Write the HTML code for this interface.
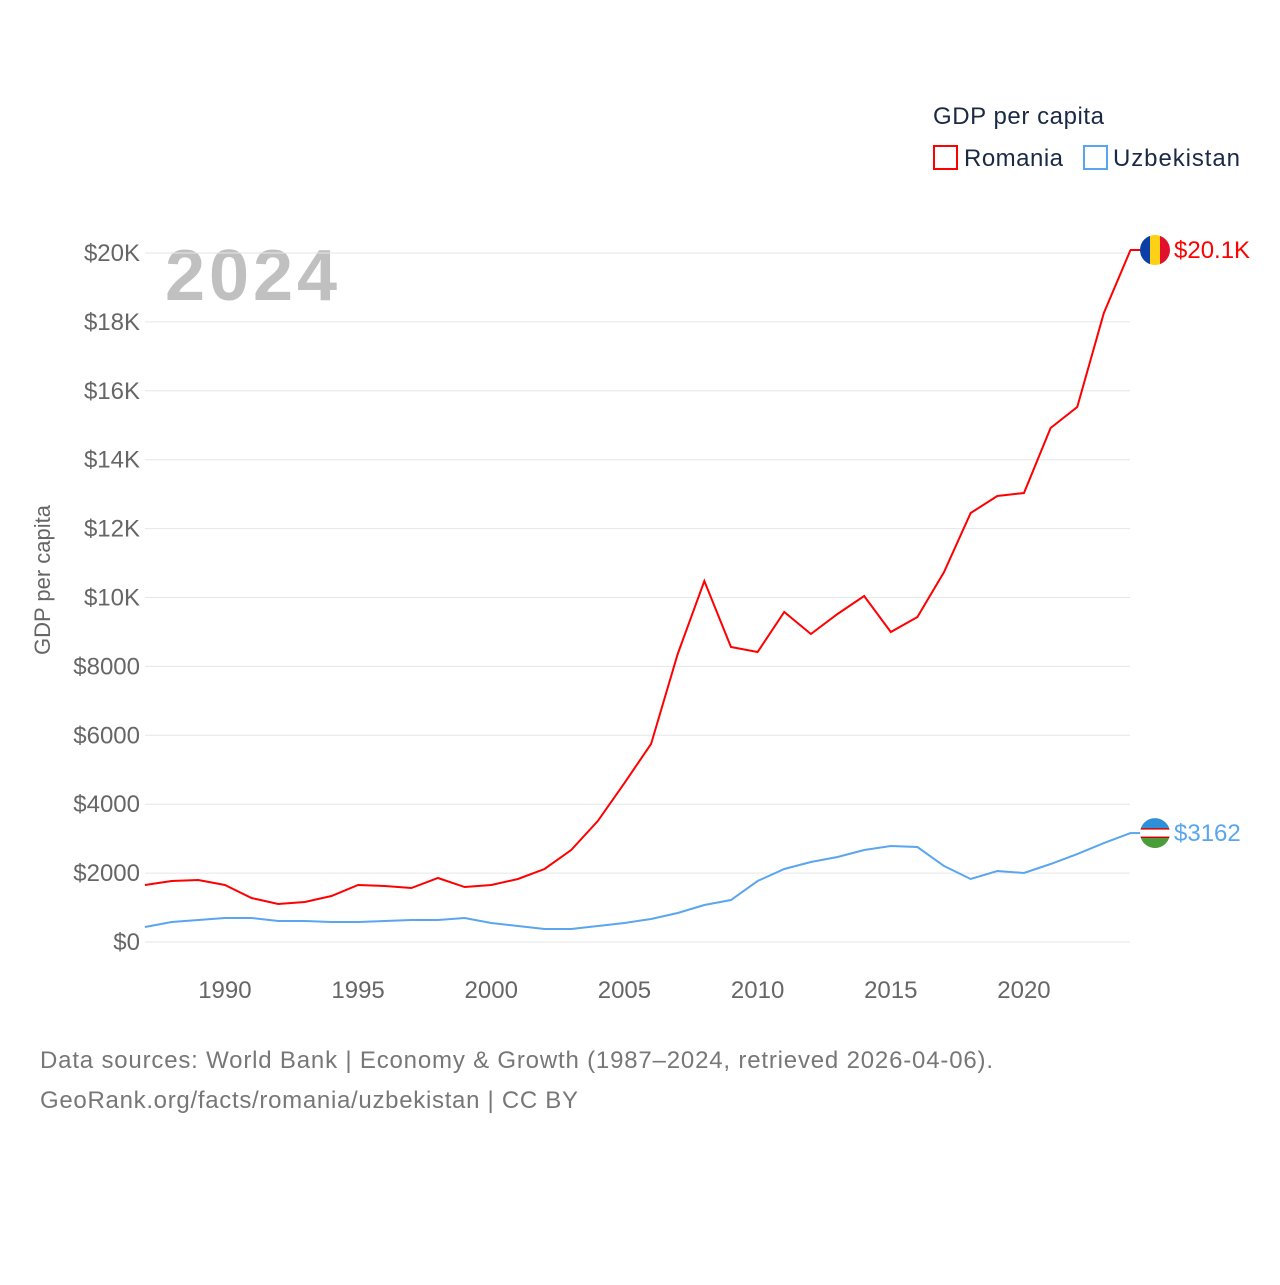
<!DOCTYPE html>
<html><head><meta charset="utf-8"><style>
body{margin:0;background:#fff;font-family:"Liberation Sans",sans-serif}
svg text{font-family:"Liberation Sans",sans-serif}
</style></head><body>
<svg id="c" width="1280" height="1280">
<text x="933" y="124" font-size="24" fill="#1a2a44" textLength="171">GDP per capita</text>
<g><rect x="934" y="146" width="23" height="23" fill="none" stroke="#f00" stroke-width="2"/><text x="964" y="166" font-size="24" fill="#1a2a44" textLength="99">Romania</text></g>
<g><rect x="1084" y="146" width="23" height="23" fill="none" stroke="#5aa6ee" stroke-width="2"/><text x="1113" y="166" font-size="24" fill="#1a2a44" textLength="127">Uzbekistan</text></g>
<text x="165" y="300" font-size="72" font-weight="bold" fill="#c0c0c0" textLength="172">2024</text>
<text transform="translate(50,580) rotate(-90)" text-anchor="middle" font-size="22" fill="#666">GDP per capita</text>
<g id="grid"></g><g id="series"></g>
<text x="40" y="1068" font-size="24" fill="#777" textLength="953">Data sources: World Bank | Economy &amp; Growth (1987–2024, retrieved 2026-04-06).</text>
<text x="40" y="1108" font-size="24" fill="#777" textLength="538">GeoRank.org/facts/romania/uzbekistan | CC BY</text>
</svg>
<script>
const years=[];for(let y=1987;y<=2024;y++)years.push(y);
const romania=[1655,1770,1800,1655,1277,1103,1161,1335,1655,1625,1567,1858,1596,1655,1829,2119,2670,3512,4615,5748,8360,10479,8563,8418,9579,8940,9521,10044,8998,9434,10740,12453,12946,13033,14920,15530,18258,20087];
const uzbekistan=[435,580,639,697,697,610,610,580,580,610,639,639,697,551,464,377,377,464,551,668,842,1074,1219,1770,2119,2322,2467,2670,2786,2757,2206,1829,2061,2003,2264,2554,2873,3162];
const yTicks=[0,2000,4000,6000,8000,10000,12000,14000,16000,18000,20000];
const yTickLabels=["$0","$2000","$4000","$6000","$8000","$10K","$12K","$14K","$16K","$18K","$20K"];
const xTicks=[1990,1995,2000,2005,2010,2015,2020];
const NS="http://www.w3.org/2000/svg";
const X=v=>145+(v-1987)*(1130.5-145)/37;
const Y=v=>942-v*(942-253)/20000;
const grid=document.getElementById('grid'),ser=document.getElementById('series');
function mk(tag,at,par){const e=document.createElementNS(NS,tag);for(const k in at)e.setAttribute(k,at[k]);par.appendChild(e);return e;}
yTicks.forEach((t,i)=>{
 const l=mk('line',{x1:145,x2:1130,y1:Y(t),y2:Y(t),stroke:'#e6e6e6','stroke-width':1},grid);
 
 
 const tx=mk('text',{x:140,y:Y(t)+8,'text-anchor':'end','font-size':24,fill:'#666'},grid);
 tx.textContent=yTickLabels[i];
 
 
});
xTicks.forEach(t=>{
 const tx=mk('text',{x:X(t),y:998,'text-anchor':'middle','font-size':24,fill:'#666'},grid);
 tx.textContent=t;
 
 
});
function line(vals,col,name){
 const p=mk('polyline',{points:vals.map((v,i)=>X(years[i])+','+Y(v)).join(' '),fill:'none',stroke:col,'stroke-width':2},ser);
 
 
}
line(uzbekistan,'#5aa6ee','uzbekistan-line');
line(romania,'#f00','romania-line');
const lr=romania[romania.length-1],lu=uzbekistan[uzbekistan.length-1];
let g=mk('g',{},ser);


mk('line',{x1:1130,x2:1142,y1:Y(lr),y2:Y(lr),stroke:'#f00','stroke-width':2},g);
const cr=mk('clipPath',{id:'cr'},g);mk('circle',{cx:1155,cy:Y(lr),r:15},cr);
[['#0b3fa8',1140],['#fcd116',1150],['#e2112b',1160]].forEach(([c,x])=>mk('rect',{x:x,y:Y(lr)-15,width:10,height:30,fill:c,'clip-path':'url(#cr)'},g));
let t=mk('text',{x:1174,y:Y(lr)+8,'font-size':24,fill:'#f00'},g);t.textContent='$20.1K';
g=mk('g',{},ser);


mk('line',{x1:1130,x2:1142,y1:Y(lu),y2:Y(lu),stroke:'#5aa6ee','stroke-width':2},g);
const cu=mk('clipPath',{id:'cu'},g);mk('circle',{cx:1155,cy:Y(lu),r:15},cu);
[['#2f8fd8',-15],['#ffffff',-5],['#4a9e3a',5]].forEach(([c,d])=>mk('rect',{x:1140,y:Y(lu)+d,width:30,height:10,fill:c,'clip-path':'url(#cu)'},g));
mk('rect',{x:1140,y:Y(lu)-5,width:30,height:1.5,fill:'#c00','clip-path':'url(#cu)'},g);
mk('rect',{x:1140,y:Y(lu)+3.5,width:30,height:1.5,fill:'#c00','clip-path':'url(#cu)'},g);
t=mk('text',{x:1174,y:Y(lu)+8,'font-size':24,fill:'#5aa6ee'},g);t.textContent='$3162';
</script>
</body></html>
